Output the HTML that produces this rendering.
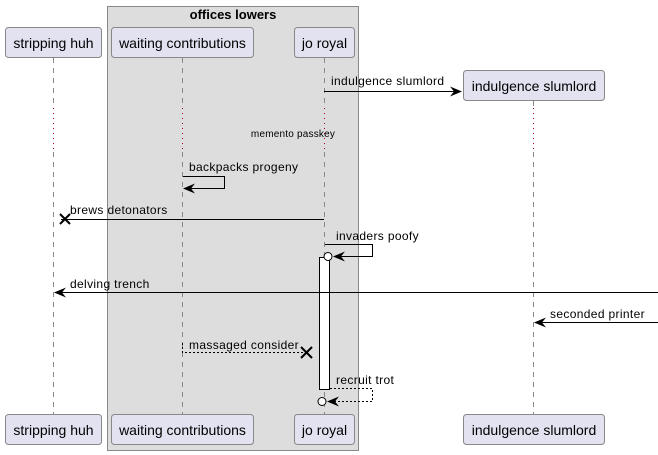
<!DOCTYPE html>
<html><head><meta charset="utf-8"><style>
html,body{margin:0;padding:0;background:#fff;}
svg{display:block;}
text{font-family:"Liberation Sans",sans-serif;}
</style></head><body>
<svg width="658" height="455" viewBox="0 0 658 455" xmlns="http://www.w3.org/2000/svg">
<rect x="107.5" y="6.5" width="251" height="444" fill="#DDDDDD" stroke="#888" stroke-width="1"/>
<text x="233" y="19" font-size="13" font-weight="bold" text-anchor="middle" fill="#000">offices lowers</text>
<g stroke="#888" stroke-width="1" stroke-dasharray="5,5" fill="none">
<line x1="53.5" y1="58" x2="53.5" y2="108"/><line x1="53.5" y1="152" x2="53.5" y2="414"/>
<line x1="182.5" y1="58" x2="182.5" y2="108"/><line x1="182.5" y1="152" x2="182.5" y2="414"/>
<line x1="324.5" y1="58" x2="324.5" y2="108"/><line x1="324.5" y1="152" x2="324.5" y2="414"/>
<line x1="533.5" y1="101" x2="533.5" y2="108"/><line x1="533.5" y1="152" x2="533.5" y2="414"/>
</g>
<g stroke="#A80036" stroke-width="1" stroke-dasharray="1,4" fill="none">
<line x1="53.5" y1="108" x2="53.5" y2="152"/>
<line x1="182.5" y1="108" x2="182.5" y2="152"/>
<line x1="324.5" y1="108" x2="324.5" y2="152"/>
<line x1="533.5" y1="108" x2="533.5" y2="152"/>
</g>
<g fill="#E2E2F0" stroke="#888" stroke-width="1">
<rect x="5.5" y="27.5" width="96" height="30" rx="3"/>
<rect x="111.5" y="27.5" width="142" height="30" rx="3"/>
<rect x="294.5" y="27.5" width="60" height="30" rx="3"/>
<rect x="463.5" y="70.5" width="141" height="30" rx="3"/>
<rect x="5.5" y="414.5" width="96" height="30" rx="3"/>
<rect x="111.5" y="414.5" width="142" height="30" rx="3"/>
<rect x="294.5" y="414.5" width="60" height="30" rx="3"/>
<rect x="463.5" y="414.5" width="141" height="30" rx="3"/>
</g>
<g font-size="14" fill="#000" text-anchor="middle">
<text x="53.5" y="48">stripping huh</text>
<text x="182.5" y="48">waiting contributions</text>
<text x="324.5" y="48">jo royal</text>
<text x="534" y="91">indulgence slumlord</text>
<text x="53.5" y="435">stripping huh</text>
<text x="182.5" y="435">waiting contributions</text>
<text x="324.5" y="435">jo royal</text>
<text x="534" y="435">indulgence slumlord</text>
</g>
<rect x="319.5" y="257.5" width="10" height="132" fill="#fff" stroke="#000" stroke-width="1"/>
<g stroke="#000" stroke-width="1" fill="none">
<line x1="324" y1="91.5" x2="461" y2="91.5"/>
<polyline points="183,176.5 224.5,176.5 224.5,188.5 184,188.5"/>
<line x1="61" y1="219.5" x2="324" y2="219.5"/>
<line x1="60" y1="214" x2="70" y2="224" stroke-width="2"/><line x1="60" y1="224" x2="70" y2="214" stroke-width="2"/>
<polyline points="325,244.5 372.5,244.5 372.5,256.5 334,256.5"/>
<circle cx="328" cy="256.5" r="4" fill="#fff"/>
<line x1="55" y1="292.5" x2="658" y2="292.5"/>
<line x1="535" y1="322.5" x2="658" y2="322.5"/>
<polyline points="182.5,343 182.5,352.5 304,352.5" stroke-dasharray="2,2"/>
<line x1="301" y1="347" x2="312" y2="358" stroke-width="2"/><line x1="301" y1="358" x2="312" y2="347" stroke-width="2"/>
<polyline points="330,388.5 372.5,388.5 372.5,401.5 328,401.5" stroke-dasharray="2,2"/>
<circle cx="322" cy="401.5" r="4" fill="#fff"/>
</g>
<g fill="#000">
<polygon points="462,91.5 450,86.5 454,91.5 450,96.5"/>
<polygon points="183,188.5 195,183.5 191,188.5 195,193.5"/>
<polygon points="333,256.5 345,251.5 341,256.5 345,261.5"/>
<polygon points="54,292.5 66,287.5 62,292.5 66,297.5"/>
<polygon points="534,322.5 546,317.5 542,322.5 546,327.5"/>
<polygon points="327,401.5 339,396.5 335,401.5 339,406.5"/>
</g>
<g font-size="12" fill="#000" letter-spacing="0.35">
<text x="331" y="85">indulgence slumlord</text>
<text x="293" y="137" font-size="10" letter-spacing="0.2" text-anchor="middle">memento passkey</text>
<text x="189" y="171">backpacks progeny</text>
<text x="70" y="214">brews detonators</text>
<text x="336" y="240">invaders poofy</text>
<text x="70" y="288">delving trench</text>
<text x="550" y="318">seconded printer</text>
<text x="189" y="349">massaged consider</text>
<text x="336" y="384">recruit trot</text>
</g>
</svg>
</body></html>
